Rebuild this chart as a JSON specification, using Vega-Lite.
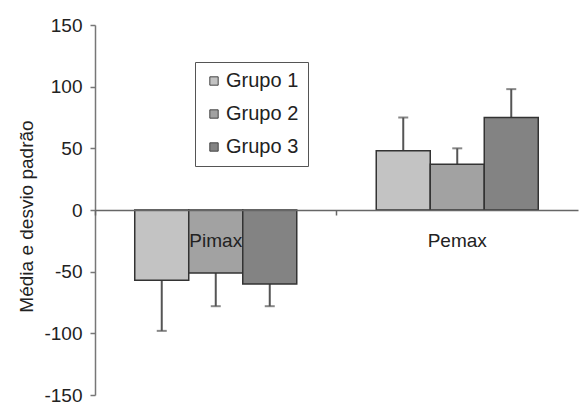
{
  "$schema": "https://vega.github.io/schema/vega-lite/v6.json",
  "width": 483,
  "height": 370,
  "autosize": {"type": "none"},
  "padding": {"left": 95, "top": 25, "right": 1, "bottom": 9},
  "background": "white",
  "config": {
    "font": "Liberation Sans",
    "view": {"stroke": null}
  },
  "data": {
    "values": [
      {"cat": "Pimax", "grupo": "Grupo 1", "media": -57, "limite": -98},
      {"cat": "Pimax", "grupo": "Grupo 2", "media": -51, "limite": -78},
      {"cat": "Pimax", "grupo": "Grupo 3", "media": -60, "limite": -78},
      {"cat": "Pemax", "grupo": "Grupo 1", "media": 48, "limite": 75},
      {"cat": "Pemax", "grupo": "Grupo 2", "media": 37, "limite": 50},
      {"cat": "Pemax", "grupo": "Grupo 3", "media": 75, "limite": 98}
    ]
  },
  "encoding": {
    "x": {
      "field": "cat",
      "type": "nominal",
      "sort": ["Pimax", "Pemax"],
      "scale": {"paddingInner": 0, "paddingOuter": 0},
      "axis": {
        "title": null,
        "orient": "bottom",
        "offset": -185,
        "zindex": 1,
        "bandPosition": 0,
        "domainColor": "#666",
        "domainWidth": 1.5,
        "tickColor": "#666",
        "tickWidth": 1.5,
        "tickSize": 5,
        "labelAngle": 0,
        "labelFontSize": 19,
        "labelColor": "#222",
        "labelPadding": 16
      }
    },
    "xOffset": {
      "field": "grupo",
      "type": "nominal",
      "scale": {"paddingInner": 0, "paddingOuter": 0.736}
    }
  },
  "layer": [
    {
      "mark": {"type": "rule", "color": "#555", "strokeWidth": 2},
      "encoding": {
        "y": {"field": "media", "type": "quantitative"},
        "y2": {"field": "limite"}
      }
    },
    {
      "mark": {"type": "tick", "orient": "horizontal", "color": "#555", "thickness": 2, "size": 10},
      "encoding": {
        "y": {"field": "limite", "type": "quantitative"}
      }
    },
    {
      "mark": {"type": "bar", "stroke": "#333", "strokeWidth": 1.5, "width": {"band": 1}},
      "encoding": {
        "y": {
          "field": "media",
          "type": "quantitative",
          "scale": {"domain": [-150, 150], "nice": false, "zero": false},
          "axis": {
            "title": "Média e desvio padrão",
            "titleFont": "Liberation Sans",
            "titleFontSize": 19,
            "titleFontWeight": "normal",
            "titleColor": "#222",
            "titlePadding": 7,
            "titleY": 191,
            "values": [-150, -100, -50, 0, 50, 100, 150],
            "labelExpr": "datum.value < 0 ? '-' + abs(datum.value) : '' + datum.value",
            "grid": false,
            "domainColor": "#777",
            "domainWidth": 1.5,
            "tickColor": "#777",
            "tickWidth": 1.5,
            "tickSize": 5,
            "labelFontSize": 19,
            "labelColor": "#222",
            "labelPadding": 8
          }
        },
        "fill": {
          "field": "grupo",
          "type": "nominal",
          "scale": {"domain": ["Grupo 1", "Grupo 2", "Grupo 3"], "range": ["#c3c3c3", "#a2a2a2", "#838383"]},
          "legend": {
            "title": null,
            "orient": "none",
            "legendX": 100,
            "legendY": 37,
            "direction": "vertical",
            "strokeColor": "#555",
            "fillColor": "white",
            "padding": 9,
            "rowPadding": 13,
            "symbolType": "square",
            "symbolSize": 70,
            "symbolStrokeColor": "#444",
            "symbolStrokeWidth": 1,
            "labelFontSize": 20,
            "labelColor": "#222",
            "labelOffset": 2
          }
        }
      }
    }
  ]
}
